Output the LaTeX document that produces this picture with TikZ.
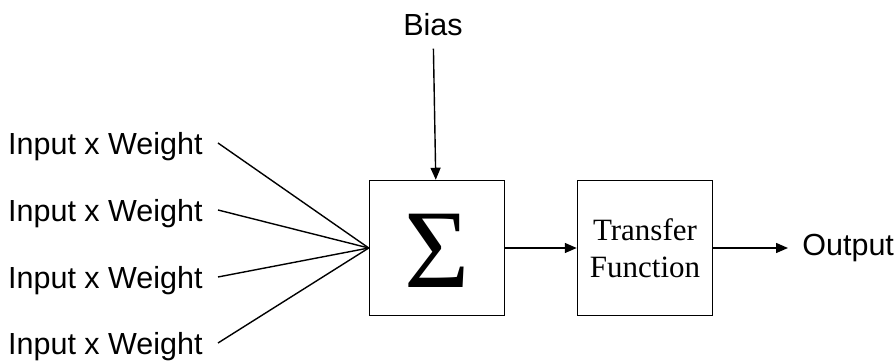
\documentclass[tikz,border=0pt]{standalone}
\usepackage{fontspec}
\setmainfont{Liberation Serif}
\setsansfont{Liberation Sans}
\usetikzlibrary{arrows.meta}

\tikzset{
  labeltext/.style={font=\sffamily\fontsize{15.25}{18}\selectfont, inner sep=3pt},
  block/.style={draw, line width=0.75pt, minimum size=67.5pt, inner sep=0pt},
  wire/.style={line width=0.7pt},
  flow/.style={wire, -{Triangle[length=6pt,width=5pt]}},
}

\begin{document}
\begin{tikzpicture}[x=0.5pt,y=-0.5pt]
    \useasboundingbox (0,0) rectangle (895,363);
    
    % Bloecke
    \node[block, font=\fontsize{56}{56}\selectfont, text height=40pt] (sum) at (437,248) {Σ};
    \node[block, align=center, font=\fontsize{15.5}{18.5}\selectfont] (tf) at (645,248) {Transfer\\Function};
    
    % Beschriftungen
    \node[labeltext, inner sep=6pt] (bias) at (433,25) {Bias};
    \node[labeltext, anchor=west, inner sep=7pt] (out) at (788,248) {Output};
    \foreach \i/\y in {1/143,2/210,3/277,4/343}
        \node[labeltext, anchor=east, inner sep=7.5pt, text depth=0pt] (in\i) at (218,\y) {Input x Weight};
    
    % Verbindungen
    \foreach \i in {1,...,4}
        \draw[wire] (in\i.east) -- (sum.west);
    \draw[flow] (bias) -- (sum);
    \draw[flow] (sum) -- (tf);
    \draw[flow] (tf.east) -- (out.west);
\end{tikzpicture}
\end{document}
